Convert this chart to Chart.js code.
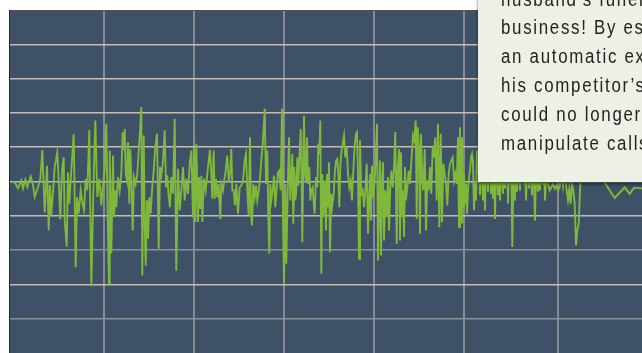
<!DOCTYPE html>
<html>
<head>
<meta charset="utf-8">
<script src="https://cdn.jsdelivr.net/npm/chart.js"></script>
<style>
  html, body { margin: 0; padding: 0; background: #fff; overflow: hidden; }
  #wrap { position: relative; width: 642px; height: 353px; overflow: hidden; }
  #note {
    position: absolute; left: 478px; top: -20px; width: 180px; height: 202px;
    background: #edf0e4; box-shadow: 0 2px 3px rgba(0,0,0,.55);
    box-sizing: border-box; padding: 4.7px 0 0 23px; overflow: hidden;
  }
  #note div {
    font: 20px/28.8px "Liberation Sans", Arial, sans-serif;
    letter-spacing: 2px; color: #232323; white-space: nowrap;
    transform: scaleX(0.845); transform-origin: 0 0;
  }
</style>
</head>
<body>
<div id="wrap">
  <canvas id="waveChart" width="642" height="353"></canvas>
  <div id="note"><div>husband’s funeral<br>business! By esta<br>an automatic exc<br>his competitor’s<br>could no longer<br>manipulate calls</div></div>
</div>
<script>
// sample times (ms) and signal level (grid units)
var times = [
  -1, 1.3, 4, 7.3, 9, 11.3, 13.3, 16.7, 19, 20.7, 24, 26.3, 28.3, 30.7, 33, 34.7, 36, 37.3, 40.7, 43.3,
  45, 46.3, 48, 49.7, 50.7, 52.7, 54, 55.3, 57.3, 59.7, 61.7, 63, 64.7, 66.7, 68, 70, 71.7, 73.3, 75.3, 77.3,
  79.3, 81.3, 83.3, 85.3, 87.3, 89, 90.7, 92.3, 93.7, 95, 95.7, 97.3, 99, 100, 101.3, 102.3, 104, 105.7, 107.3, 108.7,
  110, 110.7, 111.7, 113, 114, 115.3, 116.3, 117.3, 118.7, 120, 121.7, 123.3, 124.7, 126, 127.3, 128.3, 129.7, 130.7, 131.7, 133,
  134, 135.3, 136.7, 138, 139.7, 141.3, 143, 144.7, 146, 147.3, 149, 150.7, 152, 153.3, 154.7, 156, 157.3, 159, 160.7, 162.3,
  164, 165.7, 167.3, 169, 170.7, 172.3, 174, 175.7, 177.3, 179, 180, 181.3, 182.3, 184, 185, 186.3, 187.3, 188.3, 190, 191.7,
  193.3, 194.7, 196, 197.3, 198.3, 199.7, 200.7, 202, 203.3, 204.7, 206.3, 207.3, 209, 210, 211.7, 213.3, 214.7, 216.3, 217.3, 218.3,
  219.7, 221, 222.3, 224, 225.7, 227.3, 229, 230.7, 232, 233.3, 234.7, 236, 237, 238, 239.3, 240.7, 242, 243.3, 244.7, 246,
  247.3, 249, 250.7, 252, 253.3, 254.3, 255.3, 256.3, 257.3, 258.7, 260, 261.3, 262.7, 264, 265.3, 266.7, 268, 269, 270, 271.3,
  272.3, 273.7, 275, 276.3, 277.3, 278.3, 279.3, 280.3, 281.3, 282.3, 283.3, 284.3, 285.7, 286.7, 287.7, 288.3, 289.3, 290, 291, 292,
  293, 294, 295.3, 296.3, 297.3, 298.7, 299.7, 300.7, 302, 303.3, 304.3, 305.3, 306.3, 307.3, 308.3, 309.3, 310.7, 312, 313, 314,
  315, 316, 317.3, 318.3, 319.7, 320.7, 322, 323.3, 324.3, 325.3, 326.3, 327.3, 328.7, 330, 331.3, 332.7, 334, 335.3, 336.7, 338,
  339.3, 340.7, 342, 343, 344, 345, 346, 347.3, 348.7, 350, 351.3, 352.7, 354, 356, 357, 358, 359.3, 360.7, 361.7, 363,
  364, 365, 366, 367, 368, 369, 370, 371.3, 372.7, 374, 375, 376.3, 377.3, 378.7, 380, 381.3, 382.7, 383.7, 385, 386,
  387, 388, 389, 390, 391, 392, 393.3, 394.7, 396, 397, 398, 399, 400.3, 401.7, 402.7, 403.7, 405, 406, 407, 408,
  409.3, 410.7, 412, 413.3, 414.7, 416, 417.3, 418.7, 420, 421.3, 422.7, 424, 425.3, 426.7, 428, 429.3, 430.7, 432, 433.3, 434.7,
  436, 437.3, 438.7, 440, 441.3, 442.7, 444, 445, 446, 447, 448, 449, 450, 451, 452, 453, 454, 455, 456, 457,
  458, 459, 460, 461, 462, 463, 464, 465, 466, 467, 469, 470, 471, 472, 474, 475.5, 477, 478, 479, 480,
  481, 482, 484, 485, 486, 487, 489, 490, 491, 493, 494, 495, 496, 497, 498.3, 499.5, 501, 502, 503, 505,
  506, 508, 510, 511, 512, 514, 515, 516, 518, 519, 521, 522, 524, 525, 526, 527, 529, 530, 531, 533,
  534, 535.7, 537.3, 539, 540.7, 542.3, 544, 545.7, 547.3, 549, 550.7, 552.3, 554, 555.3, 556.7, 558, 559.3, 560.7, 562, 563.3,
  564.7, 566, 567.3, 572, 578, 584, 590, 600.7, 610.7, 615.7, 620, 628
];
var levels = [
  0, -0.05, -0.2, 0.03, -0.2, 0.05, -0.16, 0.15, -0.1, -0.45, -0.16, 0.08, 0.92, -0.9, 0.46, -1.43, -0.1, -1.0, 0.42, 0.85,
  -0.17, -1.1, 0.32, 0.71, -1.13, -1.9, 0.27, -0.65, 0.32, 1.38, -2.5, -0.46, -0.94, -0.26, -0.55, -0.84, 0.08, -0.26, 1.5, -3.05,
  -0.36, 1.78, -0.45, 0.08, -0.7, -0.07, 0.32, 1.68, -1.04, -2.98, 0.9, -2.1, 0.76, -1.04, -0.26, -0.75, 0.13, -0.26, 0.22, 1.44,
  0.95, 1.53, 0.22, 0.03, 1.15, -0.65, 0.95, 0.13, -1.43, 0.13, -0.07, 0.22, 0.9, 1.48, 2.17, -2.74, 1.34, -1.23, -2.45, -0.55,
  -1.67, -0.46, -0.94, -0.26, 0.32, 1.0, 1.39, -1.96, 0.42, 0.18, 0.6, 1.49, -0.17, 0.18, -0.46, -0.75, 0.13, -0.36, 1.83, -2.6,
  0.37, -0.84, -0.26, 0.42, -0.55, 0.08, -0.36, 0.52, 0.9, -1.04, 1.0, -1.18, 1.1, -1.18, 0.13, -0.8, 0.17, -1.18, 0.08, -0.26,
  0.22, 0.61, 0.92, 0.22, -0.5, 0.9, -0.5, 0.08, -0.46, -0.07, -1.09, -0.07, -0.26, -0.02, 0.32, 0.76, -0.02, 0.32, 0.95, -0.26,
  -0.26, -0.7, -0.07, -0.94, -0.17, -0.12, 0.03, 0.61, 0.8, -0.26, -0.99, 1.29, -0.94, -1.28, -0.07, -0.46, -0.12, -0.55, -0.26, 0.08,
  0.61, 1.2, 2.12, -0.07, 0.9, -1.04, -2.1, -0.07, -0.55, -0.26, 0.17, -0.75, -0.17, 0.27, 0.32, -0.26, 2.12, -1.04, -2.98, -0.07,
  -2.4, -0.26, 1.29, -0.55, 0.13, 0.8, -1.23, 0.42, -0.55, -0.26, 0.7, -0.12, 0.9, 1.53, -0.07, -1.77, 0.7, 1.92, 0.22, -0.02,
  1.29, -0.07, 0.42, -0.55, -0.26, -0.17, -0.65, -0.94, 0.13, -0.17, 1.1, 0.8, 1.78, -2.69, 0.22, -1.04, 0.03, -1.43, 0.22, -0.75,
  0.56, -2.06, -0.36, -0.7, -0.36, 0.22, 0.61, 0.66, 0.22, -0.75, 0.42, 0.85, 1.1, 1.34, 0.7, 1.0, 0.22, -0.17, 0.03, -0.55,
  0.32, 1.05, 1.39, 1.44, 0.22, -2.25, 1.2, -0.36, -0.26, -0.75, -0.26, 0.52, -1.52, 0.22, -1.14, 0.46, -0.46, 0.03, 0.7, 1.68,
  -2.3, -0.84, 0.61, -2.16, -0.07, 0.56, -1.72, -0.26, -1.04, 0.13, -1.43, -0.17, 0.32, -0.17, 0.42, 1.44, -1.82, 0.32, 0.95, -1.72,
  0.85, -1.04, -0.26, -1.62, 0.42, -0.55, -0.17, 0.32, -0.07, 0.42, 0.42, 1.34, 1.2, 1.78, -1.09, 1.58, 0.9, -1.52, 1.39, 0.22,
  -0.26, 0.95, -1.43, 0.03, -0.26, 0.42, -0.36, 1.05, 0.7, 1.29, -0.55, 1.68, -1.33, 1.39, -1.19, 0.52, 0.22, -0.07, -0.7, 0.22,
  0.52, 0.61, 0.7, 0.03, 0.22, -0.07, 1.29, -1.33, 1.58, -1.2, 1.29, -0.75, 0.22, -0.65, -0.07, -0.94, -0.26, 0.13, 0.32, 0.7,
  0.8, 0.56, -0.84, -0.07, -0.55, 0.9, 0.22, 1.2, -0.4, 1.0, -0.55, 1.2, -0.84, 0.9, -0.3, 1.1, -0.36, 1.0, -0.5, 0.8,
  -1.09, 0.7, -0.4, 1.2, -0.55, 0.6, -0.36, 1.0, -0.2, 0.9, -0.65, 0.5, -0.1, 1.1, -1.91, 0.3, -0.55, 1.0, -0.3, 0.8,
  -0.26, 0.9, -0.1, 0.6, -0.55, 1.0, -0.2, 0.7, -0.4, 1.1, -1.14, 0.5, -0.3, 0.8, -0.26, 0.9, -0.1, 0.6, -0.55, 0.8,
  -0.07, -0.26, -0.17, -0.07, -0.21, -0.12, -0.26, -0.17, 0.3, -0.12, 0.4, -0.17, -0.55, -0.21, -0.65, -0.07, -0.26, -0.65, -1.86, -1.43,
  -1.23, -0.26, 0.5, 0.6, 0.4, 0.3, 0.0, -0.48, -0.17, -0.36, -0.18, -0.2
];
// vertical grid lines (ms)
var gridTimes = [90, 180, 270, 360, 450, 544];

var points = times.map(function(t, i) { return { x: t, y: levels[i] }; });

// fill the plot area with the slate background
var plotBackground = {
  id: 'plotBackground',
  beforeDraw: function(chart) {
    var a = chart.chartArea, ctx = chart.ctx;
    ctx.save();
    ctx.fillStyle = '#3e5167';
    ctx.fillRect(a.left, a.top, a.right - a.left, a.bottom - a.top);
    ctx.restore();
  }
};

var ctx = document.getElementById('waveChart');
var waveChart = new Chart(ctx, {
  type: 'line',
  data: {
    datasets: [{
      data: points,
      borderColor: '#7fb83a',
      borderWidth: 1.9,
      pointRadius: 0,
      fill: false,
      tension: 0
    }]
  },
  options: {
    responsive: false,
    animation: false,
    layout: { padding: { left: 9, top: 10, right: 0, bottom: 0 } },
    plugins: { legend: { display: false }, tooltip: { enabled: false } },
    scales: {
      x: {
        type: 'linear',
        position: 'top',
        min: -5,
        max: 628,
        afterBuildTicks: function(scale) {
          scale.ticks = gridTimes.map(function(v) { return { value: v }; });
        },
        ticks: { display: false },
        grid: { color: '#858b92', lineWidth: 2, drawTicks: false },
        border: { color: '#505254', width: 1 }
      },
      y: {
        min: -5,
        max: 5,
        ticks: { display: false, stepSize: 1 },
        grid: {
          drawTicks: false,
          lineWidth: 1.5,
          color: function(c) {
            var v = c.tick.value;
            if (v === 5 || v === -5) return 'rgba(0,0,0,0)';
            if (v === -2 || v === -4) return '#8b9096';
            return '#c3bdb6';
          }
        },
        border: { color: '#22282f', width: 1 }
      }
    }
  },
  plugins: [plotBackground]
});
</script>
</body>
</html>
